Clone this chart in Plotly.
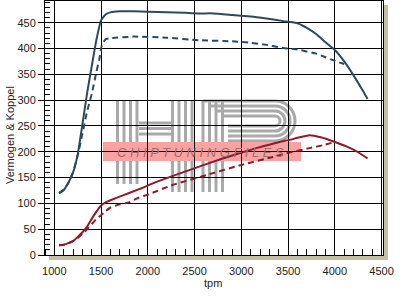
import plotly.graph_objects as go

# ---------------- data ----------------
rpm_pow_tuned = [1050, 1100, 1150, 1200, 1250, 1300, 1350, 1400, 1450, 1500, 1550, 1600, 1700,
                 1850, 2000, 2200, 2400, 2550, 2700, 2900, 3100, 3270, 3450, 3600, 3700, 3800,
                 3900, 4000, 4100, 4200, 4300, 4350]
pow_tuned = [120, 126, 140, 160, 195, 253, 313, 366, 417, 455, 466, 470, 472,
             472, 471, 470, 469, 468, 468, 465, 462, 458, 453, 449, 440, 428,
             412, 397, 375, 348, 318, 302]

rpm_pow_orig = [1050, 1100, 1150, 1200, 1250, 1300, 1350, 1400, 1450, 1480, 1510, 1550, 1600,
                1850, 2200, 2550, 2900, 3100, 3270, 3450, 3600, 3800, 3900, 4000, 4100]
pow_orig = [120, 126, 140, 160, 193, 235, 278, 312, 355, 378, 408, 418, 420,
            423, 421, 416, 414, 411, 407, 401, 398, 390, 383, 376, 370]

rpm_trq_tuned = [1050, 1100, 1150, 1200, 1250, 1300, 1350, 1400, 1450, 1500, 1550, 1600, 1740,
                 1900, 2100, 2450, 2800, 3160, 3410, 3520, 3600, 3730, 3850, 4000, 4130, 4250, 4350]
trq_tuned = [19, 20, 23, 27, 35, 44, 55, 70, 84, 96, 102, 106, 116,
             127, 142, 165, 187, 207, 219, 223, 227, 232, 228, 219, 210, 199, 187]

rpm_trq_orig = [1050, 1100, 1150, 1200, 1250, 1300, 1350, 1400, 1450, 1500, 1550, 1600, 1700,
                1800, 1900, 2000, 2270, 2630, 2990, 3340, 3480, 3730, 3880, 4000]
trq_orig = [19, 20, 23, 27, 33, 41, 50, 60, 70, 77, 85, 92, 98,
            102, 111, 117, 136, 155, 174, 190, 197, 207, 213, 219]

x_ticks = [1000, 1500, 2000, 2500, 3000, 3500, 4000, 4500]
y_ticks = [0, 50, 100, 150, 200, 250, 300, 350, 400, 450]

BLUE = "#2c4a5c"
RED = "#8c1b2b"

# ---------------- figure ----------------
fig = go.Figure()
fig.add_trace(go.Scatter(x=rpm_pow_orig, y=pow_orig, mode="lines",
                         line=dict(color=BLUE, width=2, dash="6px,4px", shape="spline", smoothing=0.4),
                         showlegend=False))
fig.add_trace(go.Scatter(x=rpm_trq_orig, y=trq_orig, mode="lines",
                         line=dict(color=RED, width=2, dash="6px,4px", shape="spline", smoothing=0.4),
                         showlegend=False))
fig.add_trace(go.Scatter(x=rpm_pow_tuned, y=pow_tuned, mode="lines",
                         line=dict(color=BLUE, width=2, shape="spline", smoothing=0.4),
                         showlegend=False))
fig.add_trace(go.Scatter(x=rpm_trq_tuned, y=trq_tuned, mode="lines",
                         line=dict(color=RED, width=2, shape="spline", smoothing=0.4),
                         showlegend=False))

# plot area in pixels
L, R, T, B = 45, 383, 1, 255
W, H = R - L, B - T


def px(x):
    return (x - L) / W


def py(y):
    return (B - y) / H


shapes = []
# frame shadow
SH = "#c6bfa8"
shapes.append(dict(type="rect", xref="paper", yref="paper", x0=px(384), x1=px(388),
                   y0=py(260), y1=py(5), fillcolor=SH, line=dict(width=0), layer="below"))
shapes.append(dict(type="rect", xref="paper", yref="paper", x0=px(49), x1=px(388),
                   y0=py(260), y1=py(256), fillcolor=SH, line=dict(width=0), layer="below"))

# watermark logo (stripes)
GR = "#a9a9a9"


def vline(x, y0, y1):
    shapes.append(dict(type="line", xref="paper", yref="paper", x0=px(x), x1=px(x),
                       y0=py(y0), y1=py(y1), line=dict(color=GR, width=3), layer="below"))


def hline(y, x0, x1):
    shapes.append(dict(type="line", xref="paper", yref="paper", x0=px(x0), x1=px(x1),
                       y0=py(y), y1=py(y), line=dict(color=GR, width=3), layer="below"))


for xx in [117.5, 124, 130.5, 137]:
    vline(xx, 100, 184)
for yy in [123, 128.5, 134]:
    hline(yy, 139, 171)
for xx in [172.5, 179, 185.5, 192]:
    vline(xx, 100, 192)
for xx in [203, 209.5, 216, 222.5]:
    vline(xx, 100, 192)
# P bowl nested curves
k_c = 0.5523
for k in range(4):
    r = 20 - 5 * k
    ytop = 101 + 5 * k
    ybot = 141 - 5 * k
    xs = 203 + 6.5 * k
    xc = 275
    ym = (ytop + ybot) / 2
    pts = [
        f"M {px(xs)},{py(ytop)}",
        f"L {px(xc)},{py(ytop)}",
        f"C {px(xc + r * k_c)},{py(ytop)} {px(xc + r)},{py(ym - r * k_c)} {px(xc + r)},{py(ym)}",
        f"C {px(xc + r)},{py(ym + r * k_c)} {px(xc + r * k_c)},{py(ybot)} {px(xc)},{py(ybot)}",
        f"L {px(228)},{py(ybot)}",
    ]
    shapes.append(dict(type="path", xref="paper", yref="paper", path=" ".join(pts),
                       line=dict(color=GR, width=3), layer="below"))
# pink band
shapes.append(dict(type="rect", xref="paper", yref="paper", x0=px(103), x1=px(301),
                   y0=py(161), y1=py(142), fillcolor="#f8a2a2", line=dict(width=0), layer="below"))

FONT = "Liberation Sans, Arial"
annotations = [
    dict(text="<i>C H I P T U N I N G F I L E S</i>", xref="paper", yref="paper",
         x=px(200), y=py(152), xanchor="center", yanchor="middle", showarrow=False,
         font=dict(size=13, color="#a06e6e", family=FONT)),
    dict(text="Vermogen & Koppel", xref="paper", yref="paper", x=px(10), y=py(135),
         xanchor="center", yanchor="middle", textangle=-90, showarrow=False,
         font=dict(size=11, color="#222", family=FONT)),
    dict(text="tpm", xref="paper", yref="paper", x=px(213), y=py(283),
         xanchor="center", yanchor="middle", showarrow=False,
         font=dict(size=11, color="#222", family=FONT)),
]

fig.update_layout(
    width=404, height=297,
    margin=dict(l=L, r=404 - R, t=T, b=297 - B),
    paper_bgcolor="white", plot_bgcolor="white",
    shapes=shapes, annotations=annotations,
    font=dict(family=FONT, size=11, color="#222"),
)
fig.update_xaxes(range=[900, 4515], tickvals=x_ticks, showgrid=True, gridcolor="black", gridwidth=1,
                 zeroline=False, showline=True, linecolor="black", linewidth=1, mirror=True,
                 ticks="outside", ticklen=6, tickcolor="rgba(0,0,0,0)",
                 minor=dict(dtick=100, tick0=0, ticks="inside", ticklen=6, tickcolor="black", showgrid=False))
fig.update_yaxes(range=[0, 492], tickvals=y_ticks, showgrid=True, gridcolor="black", gridwidth=1,
                 zeroline=False, showline=True, linecolor="black", linewidth=1, mirror=True,
                 ticks="outside", ticklen=6, tickcolor="black",
                 minor=dict(dtick=10, tick0=0, ticks="inside", ticklen=5, tickcolor="black", showgrid=False))

fig.write_html("out.html")
